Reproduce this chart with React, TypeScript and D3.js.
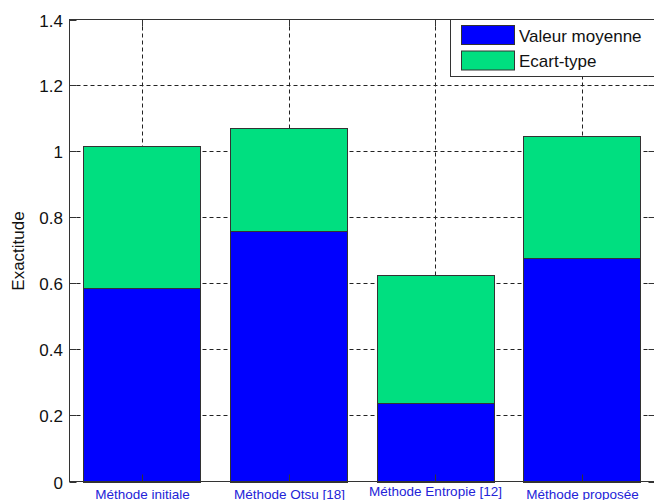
import React from "react";
import * as d3 from "d3";

const categories = ["Méthode initiale", "Méthode Otsu [18]", "Méthode Entropie [12]", "Méthode proposée"];
const meanValues = [0.587, 0.758, 0.238, 0.678];
const stdValues = [0.431, 0.312, 0.389, 0.368];
const yTicks = [0, 0.2, 0.4, 0.6, 0.8, 1, 1.2, 1.4];
const seriesNames = ["Valeur moyenne", "Ecart-type"];
const seriesColors = ["#0000ff", "#00df80"];

const W = 654;
const H = 500;
const FONT = "'Liberation Sans', Arial, Helvetica, sans-serif";

export default function App() {
  const left = 69.5;
  const right = 655.5;
  const top = 19.5;
  const bottom = 481.5;

  const x = d3.scaleBand<string>().domain(categories).range([68.5, 655.5]).paddingInner(0.2).paddingOuter(0.1);
  const y = d3.scaleLinear().domain([0, 1.4]).range([bottom, top]);

  const rows = categories.map((c, i) => ({ cat: c, mean: meanValues[i], std: stdValues[i] }));
  const stack = d3.stack<any>().keys(["mean", "std"]);
  const layers = stack(rows);

  const tickLen = 7;
  const dash = "4,3";
  const gridColor = "#222";

  return (
    <div style={{ position: "fixed", left: 0, top: 0, width: W, height: H, background: "#fff" }}>
      <svg width={W} height={H} style={{ display: "block" }} fontFamily={FONT}>
        <rect x={0} y={0} width={W} height={H} fill="#fff" />
        {/* grid */}
        {yTicks.filter((t) => t > 0 && t < 1.4).map((t) => (
          <line key={"gy" + t} x1={left} x2={right} y1={Math.round(y(t)) + 0.5} y2={Math.round(y(t)) + 0.5}
            stroke={gridColor} strokeDasharray={dash} strokeWidth={1} />
        ))}
        {categories.map((c) => {
          const cx = Math.round(x(c)! + x.bandwidth() / 2) + 0.5;
          return <line key={"gx" + c} x1={cx} x2={cx} y1={top} y2={bottom} stroke={gridColor} strokeDasharray={dash} strokeWidth={1} />;
        })}
        {/* bars */}
        {layers.map((layer, li) =>
          layer.map((d, i) => (
            <rect key={li + "-" + i}
              x={Math.round(x(categories[i])!) + 0.5}
              y={Math.round(y(d[1])) + 0.5}
              width={Math.round(x.bandwidth())}
              height={Math.round(y(d[0])) - Math.round(y(d[1]))}
              fill={seriesColors[li]} stroke="#333" strokeWidth={1} />
          ))
        )}
        {/* axes box */}
        <rect x={left} y={top} width={right - left} height={bottom - top} fill="none" stroke="#333" strokeWidth={1} />
        {/* y ticks */}
        {yTicks.map((t) => {
          const yy = Math.round(y(t)) + 0.5;
          return (
            <g key={"ty" + t}>
              <line x1={left} x2={left + tickLen} y1={yy} y2={yy} stroke="#333" />
              <line x1={right} x2={right - tickLen} y1={yy} y2={yy} stroke="#333" />
              <text x={63} y={yy} dy="0.36em" textAnchor="end" fontSize={17} fill="#111">{String(t)}</text>
            </g>
          );
        })}
        {/* x ticks */}
        {categories.map((c, i) => {
          const cx = Math.round(x(c)! + x.bandwidth() / 2) + 0.5;
          return (
            <g key={"tx" + c}>
              <line x1={cx} x2={cx} y1={top} y2={top + tickLen} stroke="#333" />
              <line x1={cx} x2={cx} y1={bottom} y2={bottom - tickLen} stroke="#333" />
              <text x={cx} y={i === 2 ? 496 : 499} textAnchor="middle" fontSize={13.5} fill="#2323d8">{c}</text>
            </g>
          );
        })}
        {/* y label */}
        <text transform={`translate(24,251) rotate(-90)`} textAnchor="middle" fontSize={17} fill="#111">Exactitude</text>
        {/* legend */}
        <rect x={450.5} y={19.5} width={260} height={57} fill="#fff" stroke="#333" strokeWidth={1} />
        {seriesNames.map((n, i) => (
          <g key={n}>
            <rect x={461.5} y={25.5 + i * 25.5} width={53} height={19} fill={seriesColors[i]} stroke="#333" strokeWidth={1} />
            <text x={519} y={42 + i * 24.5} fontSize={17} fill="#111">{n}</text>
          </g>
        ))}
      </svg>
    </div>
  );
}
